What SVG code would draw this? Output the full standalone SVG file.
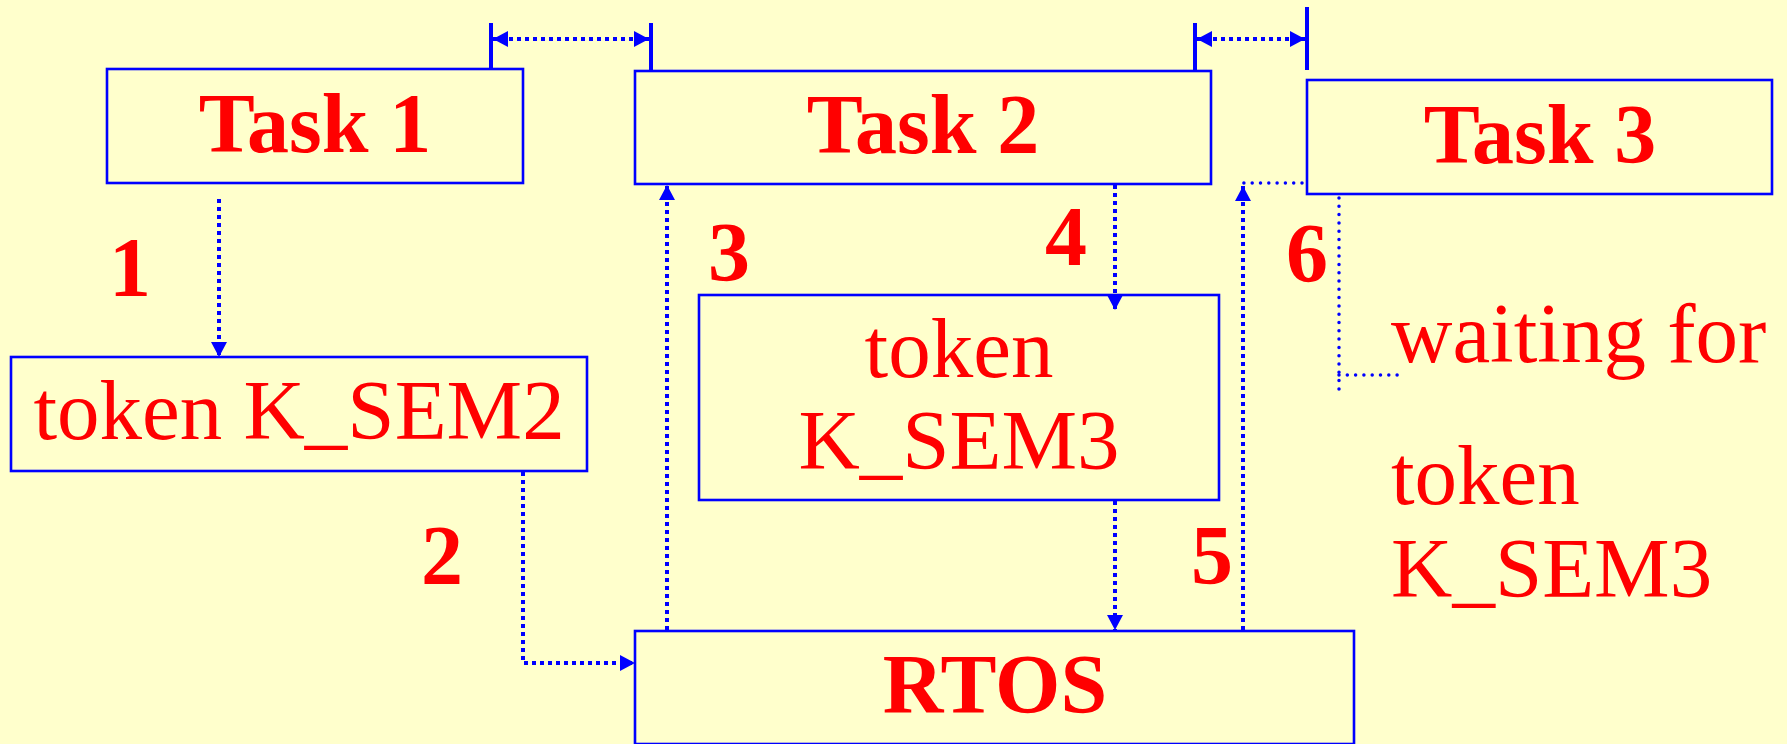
<svg xmlns="http://www.w3.org/2000/svg" width="1787" height="744" viewBox="0 0 1787 744">
<style>
.box{fill:none;stroke:#0000FF;stroke-width:2.6}
.lbl{font-family:"Liberation Serif","Times New Roman",serif;fill:#FF0000;font-size:85px}
.b{font-weight:bold;font-size:84px}
.mid{text-anchor:middle}
.dot{fill:none;stroke:#0000FF;stroke-width:4;stroke-dasharray:4 4}
.thin{fill:none;stroke:#0000FF;stroke-width:3.5;stroke-dasharray:0 8.3;stroke-linecap:round}
.tick{stroke:#0000FF;stroke-width:4}
</style>
<defs>
<marker id="ah" viewBox="0 0 15 16" refX="15" refY="8" markerWidth="15" markerHeight="16" markerUnits="userSpaceOnUse" orient="auto">
<path d="M0,0 L15,8 L0,16 Z" fill="#0000FF"/>
</marker>
<marker id="ahs" viewBox="0 0 15 16" refX="0" refY="8" markerWidth="15" markerHeight="16" markerUnits="userSpaceOnUse" orient="auto">
<path d="M15,0 L0,8 L15,16 Z" fill="#0000FF"/>
</marker>
</defs>
<rect width="1787" height="744" fill="#FFFFCC"/>
<g id="connectors">
<line class="tick" x1="491" y1="23" x2="491" y2="69"/>
<line class="tick" x1="651" y1="23" x2="651" y2="71"/>
<line class="dot" x1="493" y1="39" x2="649" y2="39" marker-start="url(#ahs)" marker-end="url(#ah)"/>
<line class="tick" x1="1195" y1="23" x2="1195" y2="71"/>
<line class="tick" x1="1307" y1="7" x2="1307" y2="70"/>
<line class="dot" x1="1197" y1="39" x2="1305" y2="39" marker-start="url(#ahs)" marker-end="url(#ah)"/>
<path class="dot" d="M219,199 L219,357" marker-end="url(#ah)"/>
<path class="dot" d="M523,472 L523,663 L635,663" marker-end="url(#ah)"/>
<path class="dot" d="M667,630 L667,185" marker-end="url(#ah)"/>
<path class="dot" d="M1115,185 L1115,310" marker-end="url(#ah)"/>
<path class="dot" d="M1115,501 L1115,630" marker-end="url(#ah)"/>
<path class="dot" d="M1243,630 L1243,186" marker-end="url(#ah)"/>
<path class="thin" d="M1302,183 L1243,183"/>
<path class="thin" d="M1339,198 L1339,390"/>
<path class="thin" d="M1339,375 L1398,375"/>
</g>
<g id="task1">
<rect class="box" x="107" y="69" width="416" height="114"/>
<text class="lbl b mid" x="315" y="152">Task 1</text>
</g>
<g id="task2">
<rect class="box" x="635" y="71" width="576" height="113"/>
<text class="lbl b mid" x="923" y="153">Task 2</text>
</g>
<g id="task3">
<rect class="box" x="1307" y="80" width="465" height="114"/>
<text class="lbl b mid" x="1540" y="163">Task 3</text>
</g>
<g id="sem2">
<rect class="box" x="11" y="357" width="576" height="114"/>
<text class="lbl mid" x="299" y="439">token K_SEM2</text>
</g>
<g id="sem3">
<rect class="box" x="699" y="295" width="520" height="205"/>
<text class="lbl mid" x="959" y="377">token</text>
<text class="lbl mid" x="959" y="469">K_SEM3</text>
</g>
<g id="rtos">
<rect class="box" x="635" y="631" width="719" height="113"/>
<text class="lbl b mid" x="995" y="713">RTOS</text>
</g>
<g id="labels">
<text class="lbl b mid" x="130" y="296">1</text>
<text class="lbl b mid" x="442" y="584">2</text>
<text class="lbl b mid" x="729" y="281">3</text>
<text class="lbl b mid" x="1066" y="265">4</text>
<text class="lbl b mid" x="1212" y="584">5</text>
<text class="lbl b mid" x="1307" y="282">6</text>
<text class="lbl" x="1391" y="362">waiting for</text>
<text class="lbl" x="1391" y="504">token</text>
<text class="lbl" x="1391" y="597">K_SEM3</text>
</g>
</svg>
